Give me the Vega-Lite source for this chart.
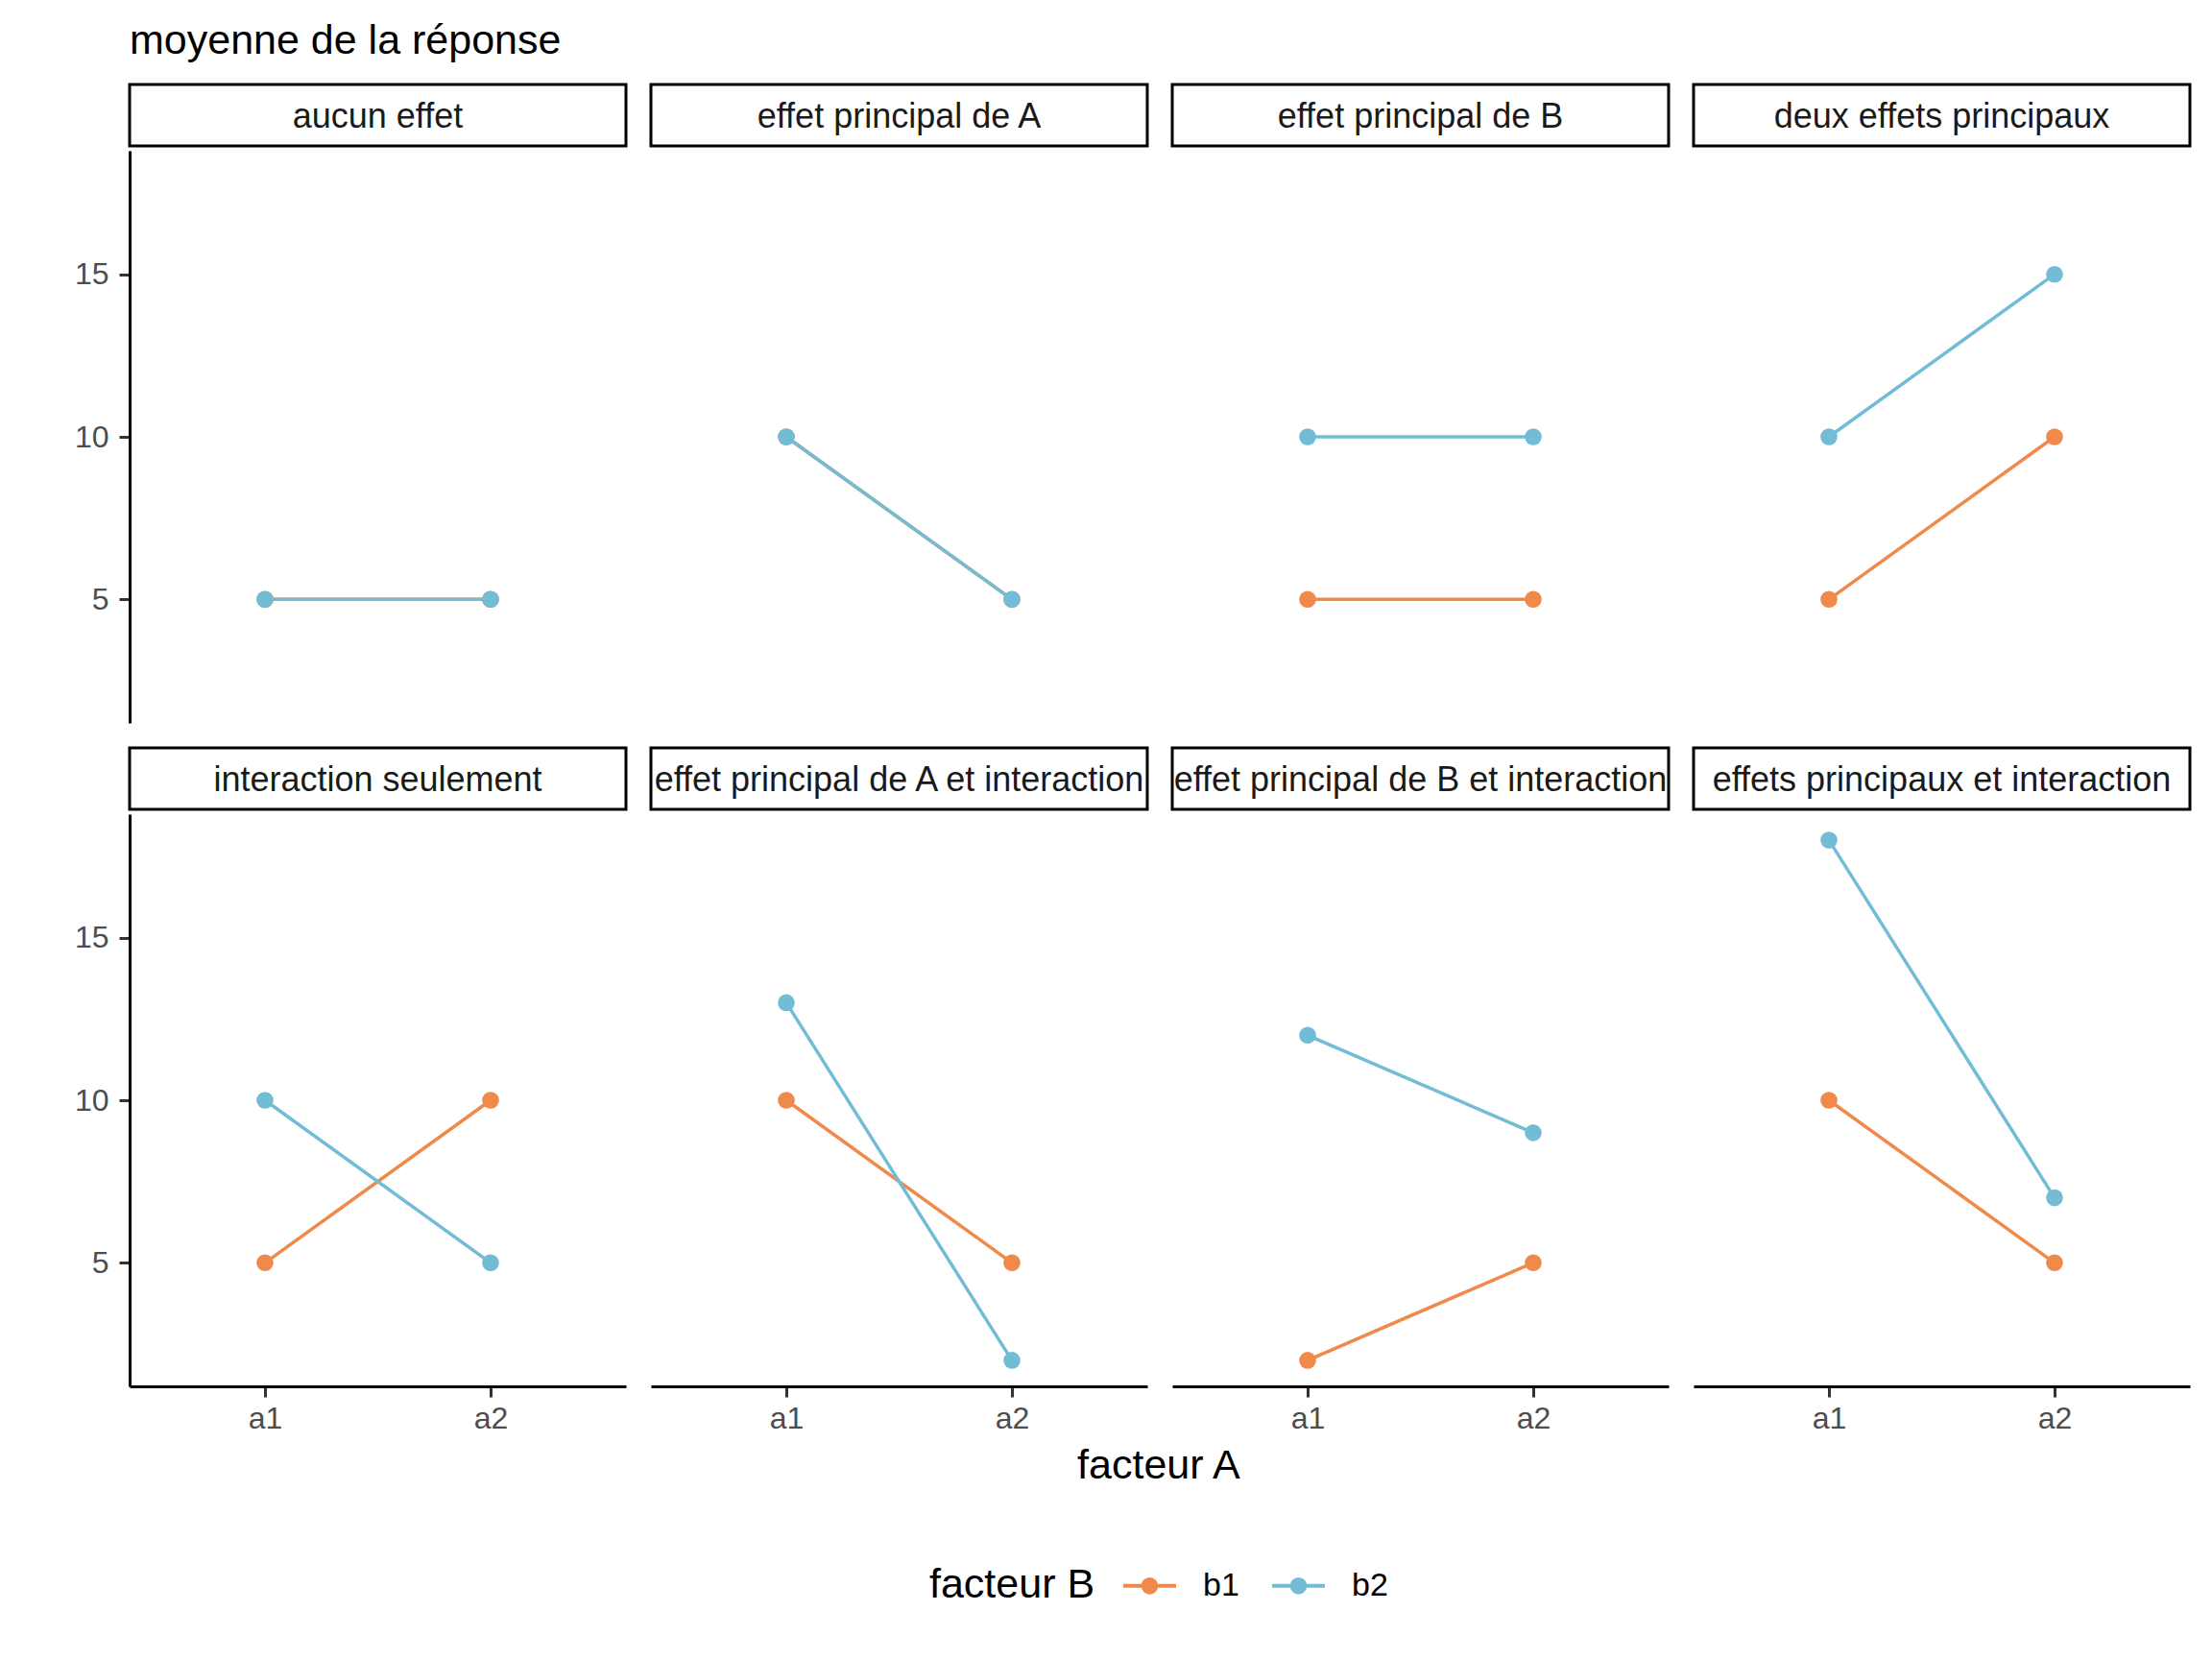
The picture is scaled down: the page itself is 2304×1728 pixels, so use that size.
{
  "$schema": "https://vega.github.io/schema/vega-lite/v6.json",
  "padding": {"left": 77, "top": 21, "right": 22, "bottom": 30},
  "background": "white",
  "title": {"text": "moyenne de la réponse", "anchor": "start", "fontSize": 43, "font": "Liberation Sans", "fontWeight": "normal", "color": "#000000", "offset": 22, "frame": "group"},
  "datasets": {
    "panneaux": [
      {"panneau": "aucun effet"},
      {"panneau": "effet principal de A"},
      {"panneau": "effet principal de B"},
      {"panneau": "deux effets principaux"},
      {"panneau": "interaction seulement"},
      {"panneau": "effet principal de A et interaction"},
      {"panneau": "effet principal de B et interaction"},
      {"panneau": "effets principaux et interaction"}
    ],
    "moyennes": [
      {"panneau": "aucun effet", "A": "a1", "B": "b1", "moyenne": 5},
      {"panneau": "aucun effet", "A": "a2", "B": "b1", "moyenne": 5},
      {"panneau": "aucun effet", "A": "a1", "B": "b2", "moyenne": 5},
      {"panneau": "aucun effet", "A": "a2", "B": "b2", "moyenne": 5},
      {"panneau": "effet principal de A", "A": "a1", "B": "b1", "moyenne": 10},
      {"panneau": "effet principal de A", "A": "a2", "B": "b1", "moyenne": 5},
      {"panneau": "effet principal de A", "A": "a1", "B": "b2", "moyenne": 10},
      {"panneau": "effet principal de A", "A": "a2", "B": "b2", "moyenne": 5},
      {"panneau": "effet principal de B", "A": "a1", "B": "b1", "moyenne": 5},
      {"panneau": "effet principal de B", "A": "a2", "B": "b1", "moyenne": 5},
      {"panneau": "effet principal de B", "A": "a1", "B": "b2", "moyenne": 10},
      {"panneau": "effet principal de B", "A": "a2", "B": "b2", "moyenne": 10},
      {"panneau": "deux effets principaux", "A": "a1", "B": "b1", "moyenne": 5},
      {"panneau": "deux effets principaux", "A": "a2", "B": "b1", "moyenne": 10},
      {"panneau": "deux effets principaux", "A": "a1", "B": "b2", "moyenne": 10},
      {"panneau": "deux effets principaux", "A": "a2", "B": "b2", "moyenne": 15},
      {"panneau": "interaction seulement", "A": "a1", "B": "b1", "moyenne": 5},
      {"panneau": "interaction seulement", "A": "a2", "B": "b1", "moyenne": 10},
      {"panneau": "interaction seulement", "A": "a1", "B": "b2", "moyenne": 10},
      {"panneau": "interaction seulement", "A": "a2", "B": "b2", "moyenne": 5},
      {"panneau": "effet principal de A et interaction", "A": "a1", "B": "b1", "moyenne": 10},
      {"panneau": "effet principal de A et interaction", "A": "a2", "B": "b1", "moyenne": 5},
      {"panneau": "effet principal de A et interaction", "A": "a1", "B": "b2", "moyenne": 13},
      {"panneau": "effet principal de A et interaction", "A": "a2", "B": "b2", "moyenne": 2},
      {"panneau": "effet principal de B et interaction", "A": "a1", "B": "b1", "moyenne": 2},
      {"panneau": "effet principal de B et interaction", "A": "a2", "B": "b1", "moyenne": 5},
      {"panneau": "effet principal de B et interaction", "A": "a1", "B": "b2", "moyenne": 12},
      {"panneau": "effet principal de B et interaction", "A": "a2", "B": "b2", "moyenne": 9},
      {"panneau": "effets principaux et interaction", "A": "a1", "B": "b1", "moyenne": 10},
      {"panneau": "effets principaux et interaction", "A": "a2", "B": "b1", "moyenne": 5},
      {"panneau": "effets principaux et interaction", "A": "a1", "B": "b2", "moyenne": 18},
      {"panneau": "effets principaux et interaction", "A": "a2", "B": "b2", "moyenne": 7}
    ]
  },
  "spacing": 24,
  "vconcat": [
    {
      "spacing": 22,
      "hconcat": [
        {"spacing": 3, "vconcat": [
          {"width": 517, "height": 64, "data": {"name": "panneaux"}, "transform": [{"filter": {"field": "panneau", "equal": "aucun effet"}}], "view": {"stroke": "#000000", "strokeWidth": 3}, "mark": {"type": "text", "fontSize": 36, "font": "Liberation Sans", "color": "#1A1A1A", "align": "center", "baseline": "middle", "dy": 2}, "encoding": {"text": {"field": "panneau", "type": "nominal"}}},
          {"width": 517, "height": 596, "data": {"name": "moyennes"}, "transform": [{"filter": {"field": "panneau", "equal": "aucun effet"}}],
           "encoding": {"x": {"field": "A", "type": "nominal", "scale": {"type": "point", "padding": 0.6, "domain": ["a1", "a2"]}, "axis": null}, "y": {"field": "moyenne", "type": "quantitative", "scale": {"domain": [1.2, 18.8], "nice": false, "zero": false}, "axis": {"title": null, "values": [5, 10, 15]}}, "color": {"field": "B", "type": "nominal", "title": "facteur B", "scale": {"domain": ["b1", "b2"], "range": ["#F08A4B", "#72BCD5"]}}},
           "layer": [{"mark": {"type": "line", "strokeWidth": 3.5}}, {"mark": {"type": "point", "filled": true, "size": 310, "opacity": 1}}]}
        ]},
        {"spacing": 3, "vconcat": [
          {"width": 517, "height": 64, "data": {"name": "panneaux"}, "transform": [{"filter": {"field": "panneau", "equal": "effet principal de A"}}], "view": {"stroke": "#000000", "strokeWidth": 3}, "mark": {"type": "text", "fontSize": 36, "font": "Liberation Sans", "color": "#1A1A1A", "align": "center", "baseline": "middle", "dy": 2}, "encoding": {"text": {"field": "panneau", "type": "nominal"}}},
          {"width": 517, "height": 596, "data": {"name": "moyennes"}, "transform": [{"filter": {"field": "panneau", "equal": "effet principal de A"}}],
           "encoding": {"x": {"field": "A", "type": "nominal", "scale": {"type": "point", "padding": 0.6, "domain": ["a1", "a2"]}, "axis": null}, "y": {"field": "moyenne", "type": "quantitative", "scale": {"domain": [1.2, 18.8], "nice": false, "zero": false}, "axis": null}, "color": {"field": "B", "type": "nominal", "title": "facteur B", "scale": {"domain": ["b1", "b2"], "range": ["#F08A4B", "#72BCD5"]}}},
           "layer": [{"mark": {"type": "line", "strokeWidth": 3.5}}, {"mark": {"type": "point", "filled": true, "size": 310, "opacity": 1}}]}
        ]},
        {"spacing": 3, "vconcat": [
          {"width": 517, "height": 64, "data": {"name": "panneaux"}, "transform": [{"filter": {"field": "panneau", "equal": "effet principal de B"}}], "view": {"stroke": "#000000", "strokeWidth": 3}, "mark": {"type": "text", "fontSize": 36, "font": "Liberation Sans", "color": "#1A1A1A", "align": "center", "baseline": "middle", "dy": 2}, "encoding": {"text": {"field": "panneau", "type": "nominal"}}},
          {"width": 517, "height": 596, "data": {"name": "moyennes"}, "transform": [{"filter": {"field": "panneau", "equal": "effet principal de B"}}],
           "encoding": {"x": {"field": "A", "type": "nominal", "scale": {"type": "point", "padding": 0.6, "domain": ["a1", "a2"]}, "axis": null}, "y": {"field": "moyenne", "type": "quantitative", "scale": {"domain": [1.2, 18.8], "nice": false, "zero": false}, "axis": null}, "color": {"field": "B", "type": "nominal", "title": "facteur B", "scale": {"domain": ["b1", "b2"], "range": ["#F08A4B", "#72BCD5"]}}},
           "layer": [{"mark": {"type": "line", "strokeWidth": 3.5}}, {"mark": {"type": "point", "filled": true, "size": 310, "opacity": 1}}]}
        ]},
        {"spacing": 3, "vconcat": [
          {"width": 517, "height": 64, "data": {"name": "panneaux"}, "transform": [{"filter": {"field": "panneau", "equal": "deux effets principaux"}}], "view": {"stroke": "#000000", "strokeWidth": 3}, "mark": {"type": "text", "fontSize": 36, "font": "Liberation Sans", "color": "#1A1A1A", "align": "center", "baseline": "middle", "dy": 2}, "encoding": {"text": {"field": "panneau", "type": "nominal"}}},
          {"width": 517, "height": 596, "data": {"name": "moyennes"}, "transform": [{"filter": {"field": "panneau", "equal": "deux effets principaux"}}],
           "encoding": {"x": {"field": "A", "type": "nominal", "scale": {"type": "point", "padding": 0.6, "domain": ["a1", "a2"]}, "axis": null}, "y": {"field": "moyenne", "type": "quantitative", "scale": {"domain": [1.2, 18.8], "nice": false, "zero": false}, "axis": null}, "color": {"field": "B", "type": "nominal", "title": "facteur B", "scale": {"domain": ["b1", "b2"], "range": ["#F08A4B", "#72BCD5"]}}},
           "layer": [{"mark": {"type": "line", "strokeWidth": 3.5}}, {"mark": {"type": "point", "filled": true, "size": 310, "opacity": 1}}]}
        ]}
      ]
    },
    {
      "spacing": 22,
      "title": {"text": "facteur A", "orient": "bottom", "anchor": "middle", "fontSize": 43, "font": "Liberation Sans", "fontWeight": "normal", "color": "#000000", "offset": 13, "frame": "bounds", "dx": 27},
      "hconcat": [
        {"spacing": 3, "vconcat": [
          {"width": 517, "height": 64, "data": {"name": "panneaux"}, "transform": [{"filter": {"field": "panneau", "equal": "interaction seulement"}}], "view": {"stroke": "#000000", "strokeWidth": 3}, "mark": {"type": "text", "fontSize": 36, "font": "Liberation Sans", "color": "#1A1A1A", "align": "center", "baseline": "middle", "dy": 2}, "encoding": {"text": {"field": "panneau", "type": "nominal"}}},
          {"width": 517, "height": 596, "data": {"name": "moyennes"}, "transform": [{"filter": {"field": "panneau", "equal": "interaction seulement"}}],
           "encoding": {"x": {"field": "A", "type": "nominal", "scale": {"type": "point", "padding": 0.6, "domain": ["a1", "a2"]}, "axis": {"title": null, "labelAngle": 0}}, "y": {"field": "moyenne", "type": "quantitative", "scale": {"domain": [1.2, 18.8], "nice": false, "zero": false}, "axis": {"title": null, "values": [5, 10, 15]}}, "color": {"field": "B", "type": "nominal", "title": "facteur B", "scale": {"domain": ["b1", "b2"], "range": ["#F08A4B", "#72BCD5"]}}},
           "layer": [{"mark": {"type": "line", "strokeWidth": 3.5}}, {"mark": {"type": "point", "filled": true, "size": 310, "opacity": 1}}]}
        ]},
        {"spacing": 3, "vconcat": [
          {"width": 517, "height": 64, "data": {"name": "panneaux"}, "transform": [{"filter": {"field": "panneau", "equal": "effet principal de A et interaction"}}], "view": {"stroke": "#000000", "strokeWidth": 3}, "mark": {"type": "text", "fontSize": 36, "font": "Liberation Sans", "color": "#1A1A1A", "align": "center", "baseline": "middle", "dy": 2}, "encoding": {"text": {"field": "panneau", "type": "nominal"}}},
          {"width": 517, "height": 596, "data": {"name": "moyennes"}, "transform": [{"filter": {"field": "panneau", "equal": "effet principal de A et interaction"}}],
           "encoding": {"x": {"field": "A", "type": "nominal", "scale": {"type": "point", "padding": 0.6, "domain": ["a1", "a2"]}, "axis": {"title": null, "labelAngle": 0}}, "y": {"field": "moyenne", "type": "quantitative", "scale": {"domain": [1.2, 18.8], "nice": false, "zero": false}, "axis": null}, "color": {"field": "B", "type": "nominal", "title": "facteur B", "scale": {"domain": ["b1", "b2"], "range": ["#F08A4B", "#72BCD5"]}}},
           "layer": [{"mark": {"type": "line", "strokeWidth": 3.5}}, {"mark": {"type": "point", "filled": true, "size": 310, "opacity": 1}}]}
        ]},
        {"spacing": 3, "vconcat": [
          {"width": 517, "height": 64, "data": {"name": "panneaux"}, "transform": [{"filter": {"field": "panneau", "equal": "effet principal de B et interaction"}}], "view": {"stroke": "#000000", "strokeWidth": 3}, "mark": {"type": "text", "fontSize": 36, "font": "Liberation Sans", "color": "#1A1A1A", "align": "center", "baseline": "middle", "dy": 2}, "encoding": {"text": {"field": "panneau", "type": "nominal"}}},
          {"width": 517, "height": 596, "data": {"name": "moyennes"}, "transform": [{"filter": {"field": "panneau", "equal": "effet principal de B et interaction"}}],
           "encoding": {"x": {"field": "A", "type": "nominal", "scale": {"type": "point", "padding": 0.6, "domain": ["a1", "a2"]}, "axis": {"title": null, "labelAngle": 0}}, "y": {"field": "moyenne", "type": "quantitative", "scale": {"domain": [1.2, 18.8], "nice": false, "zero": false}, "axis": null}, "color": {"field": "B", "type": "nominal", "title": "facteur B", "scale": {"domain": ["b1", "b2"], "range": ["#F08A4B", "#72BCD5"]}}},
           "layer": [{"mark": {"type": "line", "strokeWidth": 3.5}}, {"mark": {"type": "point", "filled": true, "size": 310, "opacity": 1}}]}
        ]},
        {"spacing": 3, "vconcat": [
          {"width": 517, "height": 64, "data": {"name": "panneaux"}, "transform": [{"filter": {"field": "panneau", "equal": "effets principaux et interaction"}}], "view": {"stroke": "#000000", "strokeWidth": 3}, "mark": {"type": "text", "fontSize": 36, "font": "Liberation Sans", "color": "#1A1A1A", "align": "center", "baseline": "middle", "dy": 2}, "encoding": {"text": {"field": "panneau", "type": "nominal"}}},
          {"width": 517, "height": 596, "data": {"name": "moyennes"}, "transform": [{"filter": {"field": "panneau", "equal": "effets principaux et interaction"}}],
           "encoding": {"x": {"field": "A", "type": "nominal", "scale": {"type": "point", "padding": 0.6, "domain": ["a1", "a2"]}, "axis": {"title": null, "labelAngle": 0}}, "y": {"field": "moyenne", "type": "quantitative", "scale": {"domain": [1.2, 18.8], "nice": false, "zero": false}, "axis": null}, "color": {"field": "B", "type": "nominal", "title": "facteur B", "scale": {"domain": ["b1", "b2"], "range": ["#F08A4B", "#72BCD5"]}}},
           "layer": [{"mark": {"type": "line", "strokeWidth": 3.5}}, {"mark": {"type": "point", "filled": true, "size": 310, "opacity": 1}}]}
        ]}
      ]
    }
  ],
  "config": {
    "font": "Liberation Sans",
    "view": {"stroke": null},
    "axis": {
      "grid": false,
      "labelFont": "Liberation Sans",
      "labelFontSize": 32,
      "labelColor": "#4D4D4D",
      "tickColor": "#333333",
      "tickSize": 11,
      "tickWidth": 3,
      "domainColor": "#000000",
      "domainWidth": 3,
      "labelPadding": 7
    },
    "axisY": {"labelPadding": 11},
    "legend": {
      "orient": "none",
      "legendX": 833,
      "legendY": 1534,
      "direction": "horizontal",
      "titleOrient": "left",
      "titleAnchor": "middle",
      "titleBaseline": "line-top",
      "titleLineHeight": 14,
      "titleFontSize": 43,
      "titleFont": "Liberation Sans",
      "titleFontWeight": "normal",
      "titleColor": "#000000",
      "labelFontSize": 34,
      "labelFont": "Liberation Sans",
      "labelColor": "#000000",
      "symbolType": "M-1,0H1M-0.25,0A0.25,0.25,0,1,1,0.25,0A0.25,0.25,0,1,1,-0.25,0Z",
      "symbolSize": 3025,
      "symbolStrokeWidth": 4,
      "labelOffset": 26,
      "columnPadding": 26,
      "titlePadding": 27
    }
  }
}
